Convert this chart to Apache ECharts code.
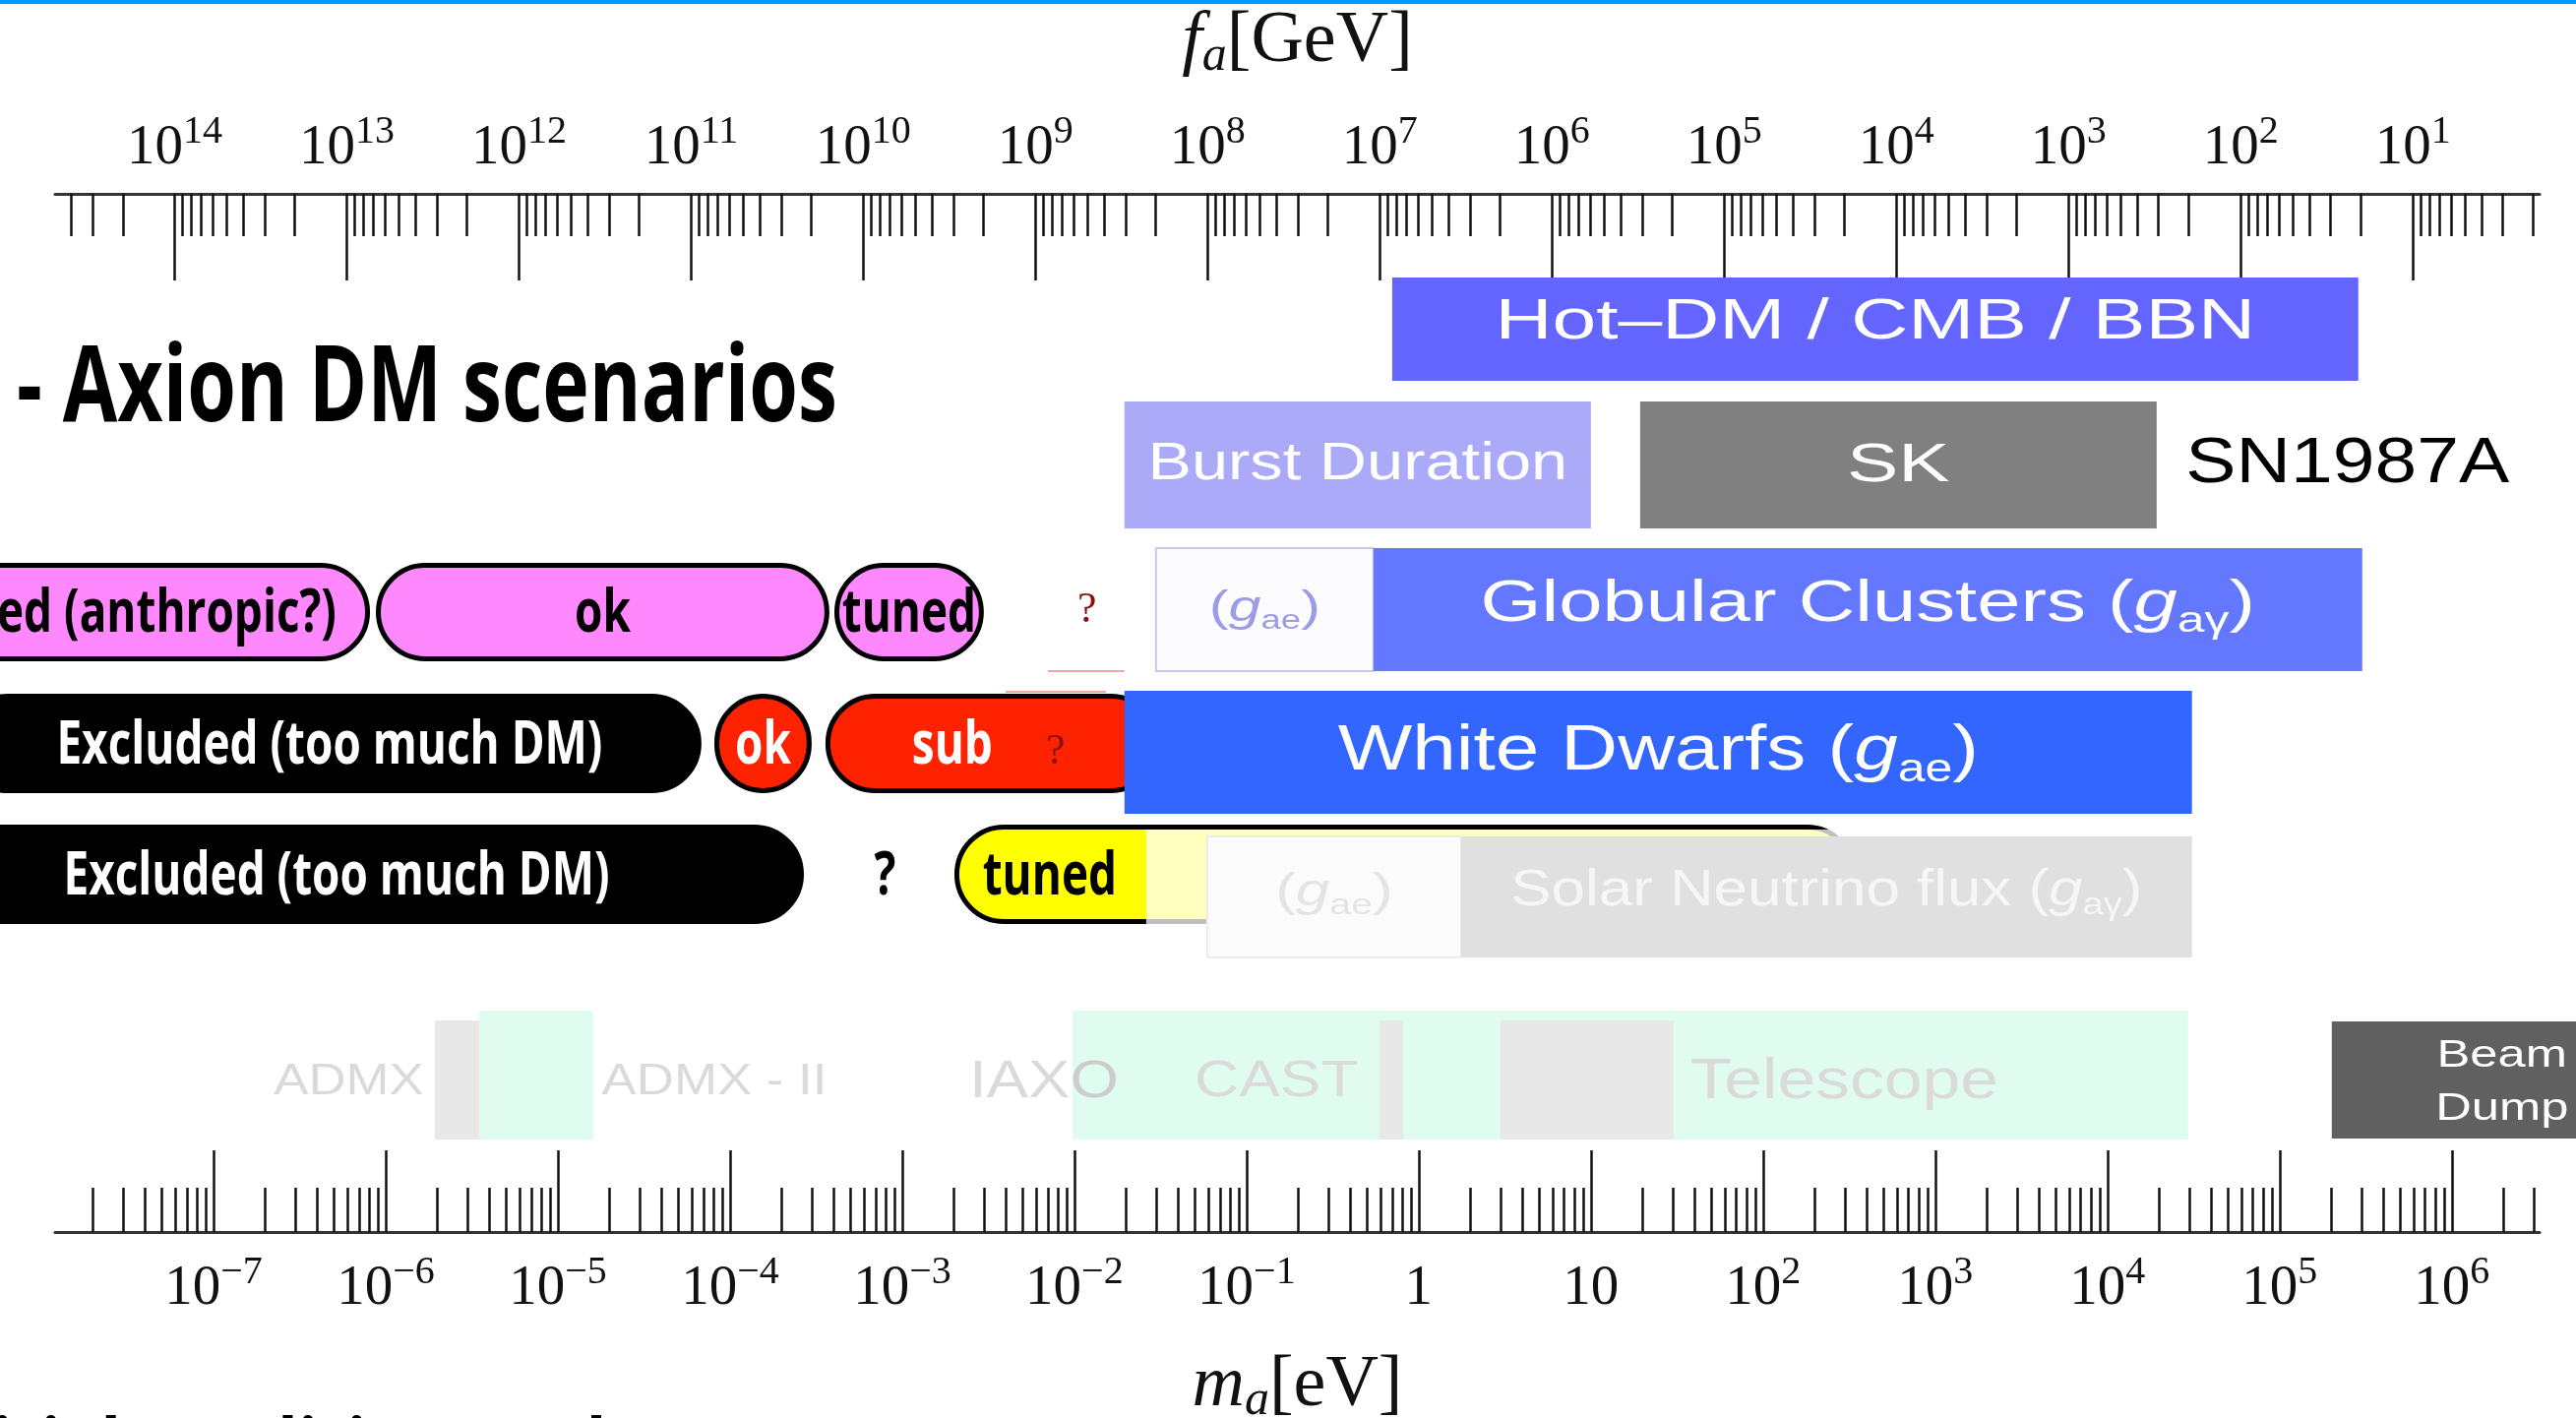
<!DOCTYPE html>
<html>
<head>
<meta charset="utf-8">
<title>Axion DM scenarios</title>
<script src="https://cdn.jsdelivr.net/npm/echarts@6/dist/echarts.min.js"></script>
<style>
  html, body { margin: 0; padding: 0; background: #fff; }
  #container { width: 2618px; height: 1441px; }
</style>
</head>
<body>
<div id="container"></div>
<script>
const SERIF = "'Liberation Serif', 'DejaVu Serif', serif";
const SANS = "'Liberation Sans', Arial, sans-serif";
const BOLD = "'Open Sans', 'DejaVu Sans Condensed', sans-serif";

// x is log10(m_a / eV) everywhere
const massExponents = [-7, -6, -5, -4, -3, -2, -1, 0, 1, 2, 3, 4, 5, 6];
const faExponents = [14, 13, 12, 11, 10, 9, 8, 7, 6, 5, 4, 3, 2, 1];
// log10(m_a) = FA_SHIFT - log10(f_a / GeV), as drawn on the figure
const FA_SHIFT = 6.774;

// scenario pills
const scenarioLabels = ['Tuned (anthropic?)', 'ok', 'tuned', 'Excluded (too much DM)', 'ok', 'sub', 'Excluded (too much DM)', 'tuned'];
const scenarioFrom = [-8.87, -6.057, -3.394, -8.486, -4.091, -3.446, -9.0, -2.697];
const scenarioTo = [-6.091, -3.423, -2.526, -4.166, -3.526, -1.5, -3.571, 2.543];

// astrophysical / cosmological constraints
const constraintNames = ['Hot–DM / CMB / BBN', 'Burst Duration', 'SK', '(g_ae)', 'Globular Clusters (g_aγ)', 'White Dwarfs (g_ae)', '(g_ae)', 'Solar Neutrino flux (g_aγ)', 'Beam\nDump'];
const constraintFrom = [-0.154, -1.709, 1.286, -1.526, -0.263, -1.709, -1.229, 0.246, 5.303];
const constraintTo = [5.457, 1.0, 4.286, -0.263, 5.48, 4.491, 0.246, 4.491, 7.28];

// experiments (faded lower band)
const windowFrom = [-5.457, -2.011];
const windowTo = [-4.794, 4.469];
const reachFrom = [-5.714, -0.229, 0.474];
const reachTo = [-5.457, -0.091, 1.48];
const expLabels = ['ADMX', 'ADMX - II', 'IAXO', 'CAST', 'Telescope'];
const expLabelAt = [-6.214, -4.091, -2.177, -0.826, 2.471];

// loose notes
const noteTexts = ['SN1987A', '?', '?', '?'];
const noteAt = [5.394, -3.1, -1.926, -2.109];
const ruleFrom = [-2.154, -2.4];
const ruleTo = [-1.709, -1.817];

const X_MIN = -7.92;
const X_MAX = 6.51;

// layout of the rows (screen y of centre, height)
const rowY = {hot: 334.5, sn: 472.5, gc: 619.5, pA: 622, wd: 764.5, pB: 755.5, solar: 911.5, pC: 888.5,
  mint: 1092.5, strip: 1097.5, beam: 1097.5, label: 1096, ruleA: 682, ruleB: 703};
const rowH = {hot: 105, sn: 129, gc: 125, pA: 100, wd: 125, pB: 101, solar: 123, pC: 101,
  mint: 131, strip: 121, beam: 119, ruleA: 0, ruleB: 0};

// squeeze the bold slide font to the condensed face of the original
const measureCtx = document.createElement('canvas').getContext('2d');
function textWidth(text, font) {
  measureCtx.font = font;
  return measureCtx.measureText(text).width;
}
const pillSqueeze = 555 / textWidth('Excluded (too much DM)', 'bold 60px ' + BOLD);
const titleSqueeze = 834 / textWidth('- Axion DM scenarios', 'bold 108px ' + BOLD);

const pillLook = [
  {row: 'pA', fill: '#ff88ff', color: '#000', textAt: -6.286, align: 'right'},
  {row: 'pA', fill: '#ff88ff', color: '#000'},
  {row: 'pA', fill: '#ff88ff', color: '#000'},
  {row: 'pB', fill: '#000000', color: '#fff'},
  {row: 'pB', fill: '#ff2200', color: '#fff'},
  {row: 'pB', fill: '#ff2200', color: '#fff', textAt: -2.709},
  {row: 'pC', fill: '#000000', color: '#fff'},
  {row: 'pC', fill: '#ffff00', color: '#000', textAt: -2.143, fadeFrom: -1.583}
];

const constraintLook = [
  {row: 'hot', fill: '#6464ff', color: '#fff', size: 57, sx: 1.41, dy: -6},
  {row: 'sn', fill: '#aaaaf8', color: '#fff', size: 53, sx: 1.26, dy: 0},
  {row: 'sn', fill: '#808080', color: '#fff', size: 56, sx: 1.4, dy: 1},
  {row: 'gc', fill: '#fcfcff', stroke: '#c8c8ee', color: '#9c9ce6', size: 44, sx: 1.35, dy: -1},
  {row: 'gc', fill: '#6478ff', color: '#fff', size: 59, sx: 1.35, dy: -5},
  {row: 'wd', fill: '#3366ff', color: '#fff', size: 64, sx: 1.25, dy: 0},
  {row: 'solar', fill: '#fbfbfb', stroke: '#ececec', color: '#e4e4e4', size: 46, sx: 1.35, dy: -4},
  {row: 'solar', fill: '#e0e0e0', color: '#f6f6f6', size: 52, sx: 1.19, dy: -6},
  {row: 'beam', fill: '#606060', color: '#fff', size: 39, sx: 1.3, dy: 3}
];

const expLook = [
  {size: 44, light: 4},
  {size: 44, light: 9},
  {size: 53, light: 3},
  {size: 52, light: 4},
  {size: 58, light: 9}
];

const noteLook = [
  {row: 'sn', family: SANS, weight: 'normal', size: 64, color: '#000', sx: 1.2, dy: 0},
  {row: 'pC', family: BOLD, weight: 'bold', size: 60, color: '#000', sx: pillSqueeze, dy: 3},
  {row: 'pA', family: SERIF, weight: 'normal', size: 44, color: '#8b1010', sx: 1, dy: -2},
  {row: 'pB', family: SERIF, weight: 'normal', size: 44, color: '#8b1010', sx: 1, dy: 9}
];

// minor ticks of the two log axes
const massMinor = [];
for (let e = -8; e <= 6; e++) {
  for (let j = 2; j <= 9; j++) {
    const v = e + Math.log10(j);
    if (v > X_MIN && v < X_MAX) massMinor.push(v);
  }
}
const faMinor = [];
for (let e = 0; e <= 14; e++) {
  for (let j = 2; j <= 9; j++) {
    const v = FA_SHIFT - e - Math.log10(j);
    if (v > X_MIN && v < X_MAX) faMinor.push(v);
  }
}
const faMajor = faExponents.map(k => FA_SHIFT - k);

function massLabel(v) {
  const e = Math.round(v);
  if (e === 0) return '{b|1}';
  if (e === 1) return '{b|10}';
  return '{b|10}{s|' + (e < 0 ? '\u2212' + (-e) : e) + '}';
}
function faLabel(v) {
  return '{b|10}{s|' + Math.round(FA_SHIFT - v) + '}';
}

const tickRich = {
  b: {fontFamily: SERIF, fontSize: 57, color: '#111', lineHeight: 66, verticalAlign: 'bottom'},
  s: {fontFamily: SERIF, fontSize: 40, color: '#111', lineHeight: 40, verticalAlign: 'top'}
};
const nameRich = {
  i: {fontFamily: SERIF, fontStyle: 'italic', fontSize: 74, color: '#111', lineHeight: 80},
  sub: {fontFamily: SERIF, fontStyle: 'italic', fontSize: 50, color: '#111', lineHeight: 50, verticalAlign: 'bottom'},
  r: {fontFamily: SERIF, fontSize: 74, color: '#111', lineHeight: 80}
};

function span(api, lo, hi, row) {
  const a = api.coord([lo, rowY[row]]);
  const b = api.coord([hi, rowY[row]]);
  const h = api.size([0, rowH[row] || 0])[1];
  return {x0: a[0], x1: b[0], yc: a[1], h: h};
}

function gLabel(text, size, color) {
  const base = {fontFamily: SANS, fontSize: size, fill: color, lineHeight: Math.round(size * 1.2)};
  const rich = {
    n: base,
    g: Object.assign({}, base, {fontStyle: 'italic'}),
    s: {fontFamily: SANS, fontSize: Math.round(size * 0.62), fill: color,
      lineHeight: Math.round(size * 0.62), verticalAlign: 'bottom'}
  };
  const m = text.match(/^(.*)\(g_([^)]+)\)$/);
  if (!m) return {text: text, rich: null};
  return {text: (m[1] ? '{n|' + m[1] + '}' : '') + '{n|(}{g|g}{s|' + m[2] + '}{n|)}', rich: rich};
}

function renderPill(params, api) {
  const i = params.dataIndex;
  const look = pillLook[i];
  const s = span(api, api.value(0), api.value(1), look.row);
  const lw = 5;
  const children = [{
    type: 'rect',
    shape: {x: s.x0 + lw / 2, y: s.yc - s.h / 2 + lw / 2, width: s.x1 - s.x0 - lw, height: s.h - lw, r: (s.h - lw) / 2},
    style: {fill: look.fill, stroke: '#000', lineWidth: lw}
  }];
  if (look.fadeFrom != null) {
    const xf = api.coord([look.fadeFrom, rowY[look.row]])[0];
    children.push({
      type: 'rect',
      shape: {x: xf, y: s.yc - s.h / 2 + lw, width: s.x1 - xf + 2, height: s.h - lw + 1},
      style: {fill: 'rgba(255,255,255,0.75)'}
    });
  }
  let tx = (s.x0 + s.x1) / 2;
  if (look.textAt != null) tx = api.coord([look.textAt, rowY[look.row]])[0];
  children.push({
    type: 'text', x: tx, y: s.yc + 3, scaleX: pillSqueeze,
    style: {text: scenarioLabels[i], fontFamily: BOLD, fontWeight: 'bold', fontSize: 60,
      fill: look.color, align: look.align || 'center', verticalAlign: 'middle'}
  });
  return {type: 'group', children: children};
}

function renderConstraint(params, api) {
  const i = params.dataIndex;
  const look = constraintLook[i];
  const s = span(api, api.value(0), api.value(1), look.row);
  const lbl = gLabel(constraintNames[i], look.size, look.color);
  const style = {text: lbl.text, fontFamily: SANS, fontSize: look.size, fill: look.color,
    align: 'center', verticalAlign: 'middle', lineHeight: Math.round(look.size * 1.38)};
  if (lbl.rich) style.rich = lbl.rich;
  return {
    type: 'group',
    children: [{
      type: 'rect',
      shape: {x: s.x0, y: s.yc - s.h / 2, width: s.x1 - s.x0, height: s.h},
      style: {fill: look.fill, stroke: look.stroke || null, lineWidth: look.stroke ? 2 : 0}
    }, {
      type: 'text', x: (s.x0 + s.x1) / 2, y: s.yc + look.dy, scaleX: look.sx,
      style: style
    }]
  };
}

function bandRenderer(row, fill) {
  return function (params, api) {
    const s = span(api, api.value(0), api.value(1), row);
    return {type: 'rect', shape: {x: s.x0, y: s.yc - s.h / 2, width: s.x1 - s.x0, height: s.h}, style: {fill: fill}};
  };
}

function renderExpLabel(params, api) {
  const i = params.dataIndex;
  const look = expLook[i];
  const p = api.coord([api.value(0), rowY.label]);
  const t = expLabels[i];
  const tok = {fontFamily: SANS, fontSize: look.size, lineHeight: look.size};
  return {
    type: 'text', x: p[0], y: p[1] + 4, scaleX: 1.2,
    style: {
      text: '{l|' + t.slice(0, look.light) + '}' + (t.length > look.light ? '{d|' + t.slice(look.light) + '}' : ''),
      rich: {l: Object.assign({fill: '#dadada'}, tok), d: Object.assign({fill: '#cdcdcd'}, tok)},
      fontFamily: SANS, fontSize: look.size, align: 'center', verticalAlign: 'middle'
    }
  };
}

function renderNote(params, api) {
  const i = params.dataIndex;
  const look = noteLook[i];
  const p = api.coord([api.value(0), rowY[look.row]]);
  return {
    type: 'text', x: p[0], y: p[1] + look.dy, scaleX: look.sx,
    style: {text: noteTexts[i], fontFamily: look.family, fontWeight: look.weight, fontSize: look.size,
      fill: look.color, align: 'center', verticalAlign: 'middle'}
  };
}

function renderRule(params, api) {
  const row = params.dataIndex === 0 ? 'ruleA' : 'ruleB';
  const s = span(api, api.value(0), api.value(1), row);
  return {type: 'line', shape: {x1: s.x0, y1: s.yc, x2: s.x1, y2: s.yc}, style: {stroke: '#f3a4a4', lineWidth: 2}};
}

var dom = document.getElementById('container');
var myChart = echarts.init(dom, null, {renderer: 'canvas'});

const baseAxis = {type: 'value', gridIndex: 0, min: X_MIN, max: X_MAX, splitLine: {show: false}};
const footText = '- Initial conditions at large';
const footSize = 90;
const footX = -8 - titleSqueeze * textWidth('- In', 'bold ' + footSize + 'px ' + BOLD);

var option = {
  backgroundColor: '#ffffff',
  animation: false,
  grid: [{left: 56, right: 37, top: 197, bottom: 189, containLabel: false, outerBoundsMode: 'none'}],
  xAxis: [
    Object.assign({}, baseAxis, {
      position: 'bottom',
      axisLine: {show: true, onZero: false, lineStyle: {color: '#333', width: 3}},
      axisTick: {show: true, inside: true, length: 83, customValues: massExponents, lineStyle: {color: '#111', width: 2.5}},
      axisLabel: {show: true, customValues: massExponents, margin: 21, formatter: massLabel, rich: tickRich},
      name: '{i|m}{sub|a}{r|[eV]}', nameLocation: 'middle', nameGap: 117, nameTextStyle: {rich: nameRich}
    }),
    Object.assign({}, baseAxis, {
      position: 'bottom',
      axisLine: {show: false, onZero: false},
      axisTick: {show: true, inside: true, length: 45, customValues: massMinor, lineStyle: {color: '#111', width: 2.5}},
      axisLabel: {show: false}
    }),
    Object.assign({}, baseAxis, {
      position: 'top',
      axisLine: {show: true, onZero: false, lineStyle: {color: '#333', width: 3}},
      axisTick: {show: true, inside: true, length: 88, customValues: faMajor, lineStyle: {color: '#111', width: 2.5}},
      axisLabel: {show: true, customValues: faMajor, margin: 17, formatter: faLabel, rich: tickRich},
      name: '{i|f}{sub|a}{r|[GeV]}', nameLocation: 'middle', nameGap: 114, nameTextStyle: {rich: nameRich}
    }),
    Object.assign({}, baseAxis, {
      position: 'top',
      axisLine: {show: false, onZero: false},
      axisTick: {show: true, inside: true, length: 43, customValues: faMinor, lineStyle: {color: '#111', width: 2.5}},
      axisLabel: {show: false}
    })
  ],
  yAxis: [{type: 'value', gridIndex: 0, min: 197, max: 1252, inverse: true, show: false}],
  graphic: [
    {type: 'rect', shape: {x: 0, y: 0, width: 2618, height: 4}, style: {fill: '#0099ff'}, z: 100},
    {type: 'text', x: 17, y: 397, scaleX: titleSqueeze,
      style: {text: '- Axion DM scenarios', fontFamily: BOLD, fontWeight: 'bold', fontSize: 108, fill: '#000', verticalAlign: 'middle'}},
    {type: 'text', x: footX, y: 1480, scaleX: titleSqueeze,
      style: {text: footText, fontFamily: BOLD, fontWeight: 'bold', fontSize: footSize, fill: '#000', verticalAlign: 'middle'}}
  ],
  series: [
    {
      type: 'custom', name: 'windows', z: 1, xAxisIndex: 0, yAxisIndex: 0,
      renderItem: bandRenderer('mint', '#e0fcf0'),
      encode: {x: [0, 1], y: 2},
      data: windowFrom.map((v, i) => [v, windowTo[i], rowY.mint])
    },
    {
      type: 'custom', name: 'reach', z: 2, xAxisIndex: 0, yAxisIndex: 0,
      renderItem: bandRenderer('strip', '#e8e8e8'),
      encode: {x: [0, 1], y: 2},
      data: reachFrom.map((v, i) => [v, reachTo[i], rowY.strip])
    },
    {
      type: 'custom', name: 'experiments', z: 3, xAxisIndex: 0, yAxisIndex: 0,
      renderItem: renderExpLabel,
      encode: {x: 0, y: 1},
      data: expLabelAt.map(v => [v, rowY.label])
    },
    {
      type: 'custom', name: 'scenarios', z: 4, xAxisIndex: 0, yAxisIndex: 0,
      renderItem: renderPill,
      encode: {x: [0, 1], y: 2},
      data: scenarioFrom.map((v, i) => [v, scenarioTo[i], rowY[pillLook[i].row]])
    },
    {
      type: 'custom', name: 'constraints', z: 5, xAxisIndex: 0, yAxisIndex: 0,
      renderItem: renderConstraint,
      encode: {x: [0, 1], y: 2},
      data: constraintFrom.map((v, i) => [v, constraintTo[i], rowY[constraintLook[i].row]])
    },
    {
      type: 'custom', name: 'notes', z: 6, xAxisIndex: 0, yAxisIndex: 0,
      renderItem: renderNote,
      encode: {x: 0, y: 1},
      data: noteAt.map((v, i) => [v, rowY[noteLook[i].row]])
    },
    {
      type: 'custom', name: 'rules', z: 6, xAxisIndex: 0, yAxisIndex: 0,
      renderItem: renderRule,
      encode: {x: [0, 1], y: 2},
      data: ruleFrom.map((v, i) => [v, ruleTo[i], i === 0 ? rowY.ruleA : rowY.ruleB])
    }
  ]
};

myChart.setOption(option);
window.addEventListener('resize', myChart.resize);
</script>
</body>
</html>
